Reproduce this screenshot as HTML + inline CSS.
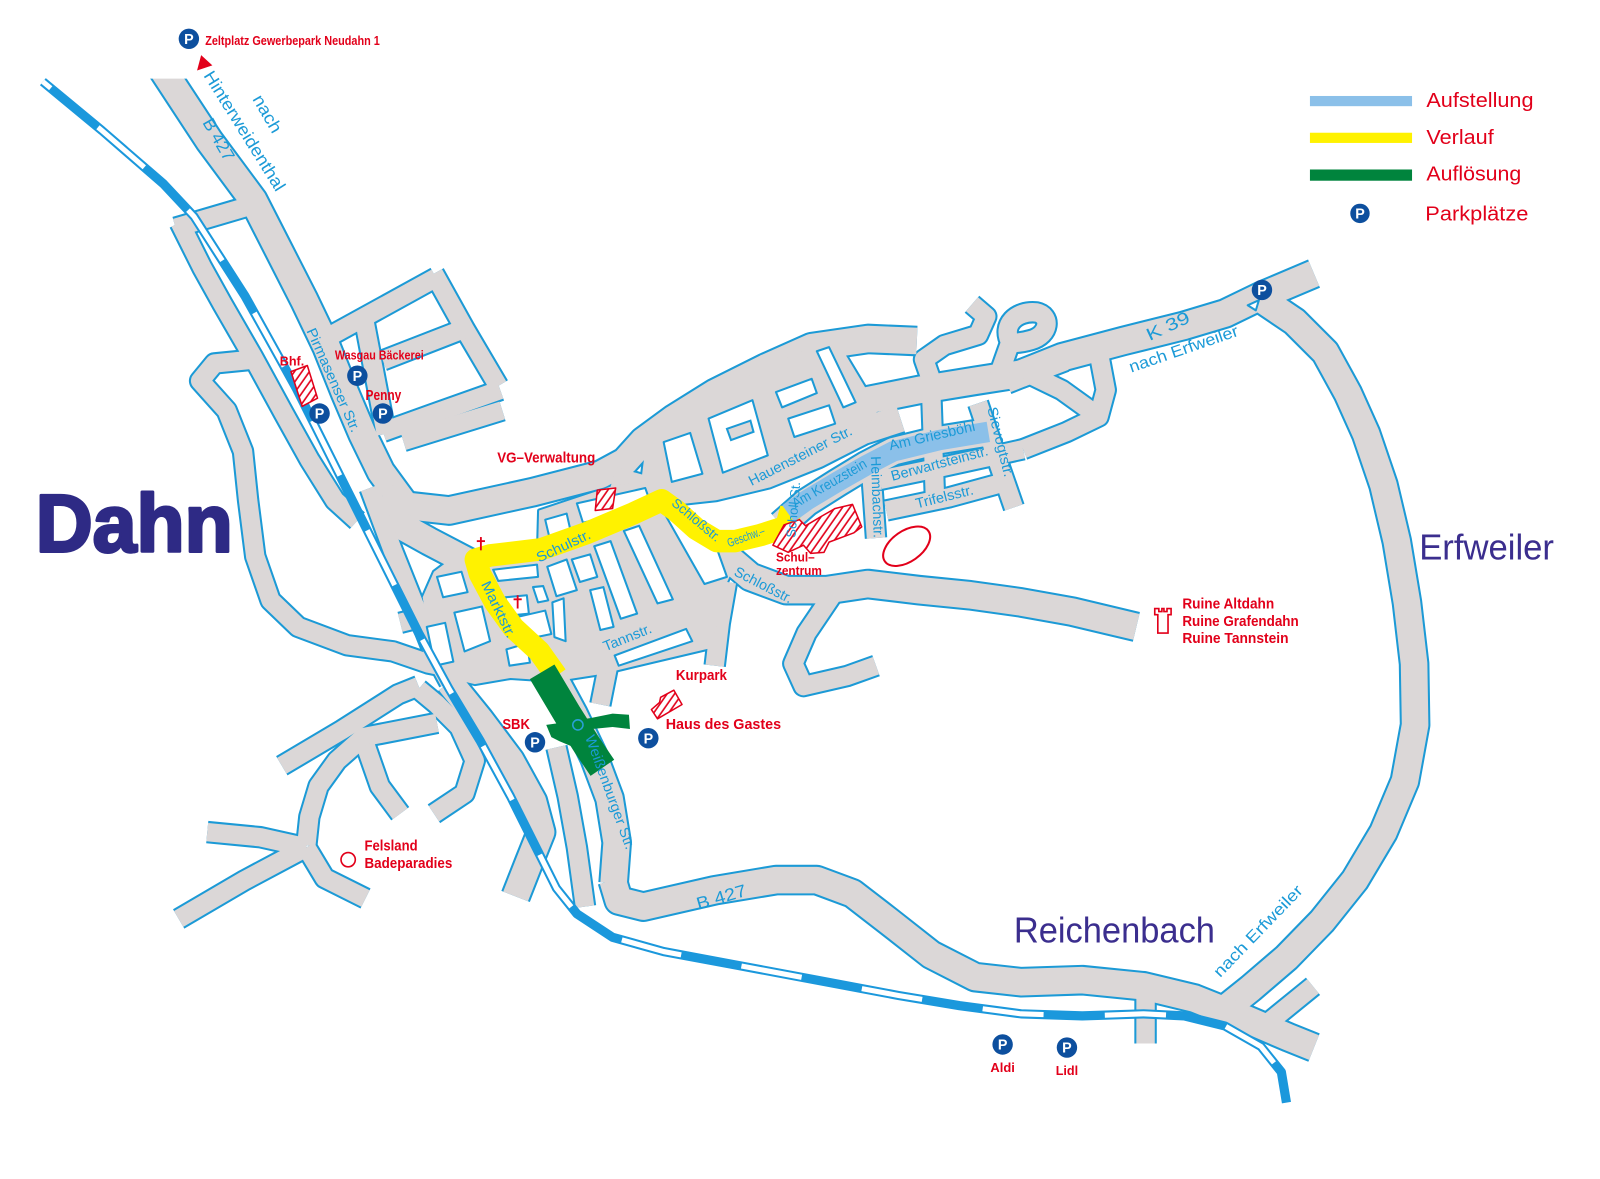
<!DOCTYPE html>
<html><head><meta charset="utf-8">
<style>
html,body{margin:0;padding:0;background:#fff;}
svg{display:block}
text{font-family:"Liberation Sans Narrow","Liberation Sans",sans-serif}
.b{fill:#1b9ad7;font-size:14px}
.r{fill:#e2001a;font-size:13px;font-weight:bold}
.lg{fill:#e2001a;font-size:20px}
.blk{fill:#fff;stroke:#1c9ad6;stroke-width:2;stroke-linejoin:round}
.pc{fill:#0d4f9e}
.pt{fill:#fff;font-size:14px;font-weight:bold;font-family:"Liberation Sans",sans-serif}
</style></head><body>
<svg width="1600" height="1179" viewBox="0 0 1600 1179" xmlns="http://www.w3.org/2000/svg">
<defs>
<pattern id="hat" patternUnits="userSpaceOnUse" width="6" height="6" patternTransform="rotate(35)">
<rect width="6" height="6" fill="#fff"/><line x1="1" y1="0" x2="1" y2="6" stroke="#e2001a" stroke-width="1.6"/>
</pattern>
<g id="maj">
<path d="M150,54 L163,74 L205,138 L248,196 L273,245 L298,294 L320,340 L338,385 L355,425 L373,462 L395,492"/>
<path d="M375,485 L395,495 L440,500 L522,482 L588,465 L612,452 L630,432 L660,410 L700,385 L750,360 L795,340 L850,332 L898,334"/>
<path d="M600,470 L645,483 L700,477 L750,465 L800,445 L845,422 L882,410"/>
<path d="M840,394 L900,382 L955,373 L1000,366 L1042,350"/>
<path d="M765,514 L790,492 L820,473 L848,456 L875,442 L920,431 L970,423"/>
<path d="M985,372 L1040,350 L1100,334 L1160,319 L1200,307 L1235,290 L1287,268"/>
<path d="M1228,288 L1268,315 L1298,345 L1320,385 L1338,425 L1355,475 L1368,530 L1378,590 L1385,650 L1386,710 L1376,765 L1355,815 L1327,862 L1295,902 L1260,938 L1225,968 L1195,992"/>
<path d="M600,862 L606,882 L630,888 L700,872 L760,862 L800,862 L835,875 L870,902 L912,935 L955,957 L1000,962 L1060,960 L1120,966 L1170,978 L1220,998 L1262,1016 L1287,1026"/>
<path d="M535,650 L562,700 L582,742 L597,782 L604,825 L601,865"/>
<path d="M700,535 L735,565 L770,578 L810,578 L850,572 L900,578 L950,583 L1000,590 L1050,599 L1113,614"/>
<path d="M440,668 L470,705 L500,745 L522,785 L530,815 L518,845 L505,878"/>
<path d="M375,505 L420,530 L462,552"/>
</g>
<g id="min">
<path d="M172,223 L240,203"/>
<path d="M176,218 L198,262 L218,298 L248,350 L278,405 L303,450 L328,490 L350,510"/>
<path d="M250,352 L210,356 L196,373 L222,402 L238,442 L243,490 L250,545 L265,588 L292,614 L340,632 L385,638 L420,650 L445,655"/>
<path d="M362,478 L385,540 L405,590 L425,640 L440,668"/>
<path d="M318,332 L427,272"/>
<path d="M425,268 L455,322 L488,378"/>
<path d="M375,353 L460,320"/>
<path d="M375,423 L425,405 L490,382"/>
<path d="M357,315 L378,425"/>
<path d="M395,432 L492,402"/>
<path d="M410,672 L390,680 L335,715 L276,750"/>
<path d="M428,708 L356,722 L330,745 L312,770 L303,800 L300,828"/>
<path d="M300,830 L255,820 L203,815"/>
<path d="M300,830 L240,862 L175,900"/>
<path d="M300,830 L318,860 L358,880"/>
<path d="M358,730 L372,770 L392,797"/>
<path d="M425,797 L455,777 L465,745 L450,712 L428,690 L410,675"/>
<path d="M545,732 L556,780 L565,830 L573,888"/>
<path d="M852,445 L855,485 L858,527"/>
<path d="M958,395 L975,445 L993,497"/>
<path d="M862,470 L920,458 L975,446 L1002,440"/>
<path d="M868,500 L930,487 L985,472"/>
<path d="M912,383 L916,495"/>
<path d="M912,372 L905,352 L925,338 L958,328 L966,310 L952,298"/>
<path d="M990,336 C980,318 996,304 1015,306 C1030,309 1028,328 1010,333 C1000,336 994,336 990,336 Z"/>
<path d="M990,334 L978,368"/>
<path d="M1005,365 L1040,382 L1072,405"/>
<path d="M1076,345 L1083,382 L1076,408 L1045,423 L1002,440"/>
<path d="M815,583 L790,620 L777,650 L787,672 L830,662 L858,652"/>
<path d="M712,570 L705,610 L700,652"/>
<path d="M595,655 L588,690"/>
<path d="M1122,965 L1122,1022"/>
<path d="M1238,1005 L1286,966"/>
<path d="M392,610 L440,598"/>
<path d="M812,338 L848,398"/>
</g>
<g id="poly">
<polygon points="445,545 470,540 527,537 528,500 600,476 640,470 652,488 700,520 722,548 710,575 703,610 695,635 640,648 590,660 545,667 500,664 465,670 440,664 426,640 418,610 414,585 425,560"/>
<polygon points="628,472 632,440 660,410 700,385 750,360 795,340 815,338 845,392 860,405 845,422 800,445 750,465 700,478 645,488"/>
</g>
</defs>
<rect width="1600" height="1179" fill="#fff"/>
<g transform="scale(1.021)">
<!-- roads -->
<g stroke-linejoin="round" stroke-linecap="butt">
<use href="#maj" stroke="#1c9ad6" stroke-width="30" fill="none"/>
<use href="#min" stroke="#1c9ad6" stroke-width="22" fill="none"/>
<use href="#poly" stroke="#1c9ad6" stroke-width="4" fill="#1c9ad6"/>
<use href="#maj" stroke="#dbd7d7" stroke-width="26" fill="none"/>
<use href="#min" stroke="#dbd7d7" stroke-width="18" fill="none"/>
<use href="#poly" stroke="none" fill="#dbd7d7"/>
</g>
<rect x="120" y="0" width="95" height="77" fill="#fff"/>
<!-- blocks -->
<g class="blk">
<polygon points="650,433 676,424 688,464 658,472"/>
<polygon points="694,410 737,392 752,446 708,463"/>
<polygon points="760,384 795,371 800,385 766,399"/>
<polygon points="772,410 812,397 818,415 778,428"/>
<polygon points="800,344 812,340 838,394 826,399"/>
<polygon points="534,509 555,503 560,525 539,530"/>
<polygon points="565,493 632,478 638,495 571,512"/>
<polygon points="652,505 662,502 702,537 712,565 690,572"/>
<polygon points="483,558 526,553 527,565 488,569"/>
<polygon points="536,555 555,548 565,578 545,584"/>
<polygon points="560,548 578,543 585,565 568,570"/>
<polygon points="582,535 598,530 624,601 608,606"/>
<polygon points="611,520 626,515 659,587 644,591"/>
<polygon points="495,585 516,583 518,601 498,603"/>
<polygon points="522,575 532,574 537,588 527,590"/>
<polygon points="508,604 534,598 540,621 511,627"/>
<polygon points="541,590 552,586 554,628 543,624"/>
<polygon points="578,578 591,575 601,614 588,617"/>
<polygon points="602,642 672,616 678,628 606,652"/>
<polygon points="445,600 472,594 480,628 455,638"/>
<polygon points="428,565 452,560 458,580 434,585"/>
<polygon points="496,636 516,630 519,649 499,652"/>
<polygon points="418,614 436,610 444,648 426,652"/>
<polygon points="1222,299 1233,294 1230,304"/>
</g>
<polygon points="712,420 735,412 738,423 716,431" fill="#dbd7d7" stroke="#1c9ad6" stroke-width="2"/>
<!-- route -->
<g fill="none" stroke-linejoin="round">
<path d="M545,662 L528,638 L503,615 L485,590 L470,562 L466,548 L480,544 L530,538 L575,522 L620,503 L648,490 L662,500 L682,518 L702,530 L720,530 L745,524 L770,516 L775,498" stroke="#fff200" stroke-width="22"/>
<path d="M772,503 L790,490 L820,472 L848,456 L875,442 L920,431 L968,423" stroke="#8bc0e9" stroke-width="20"/>
<path d="M531,658 L556,700 L575,730 L590,752" stroke="#00843d" stroke-width="28"/>
</g>
<polygon points="535,710 556,707 580,703 600,699 616,700 617,714 600,712 580,714 568,720 560,731 548,726 540,722" fill="#00843d"/>
<circle cx="566" cy="710" r="5" fill="none" stroke="#2aa0d8" stroke-width="1.5"/>
<!-- rail -->
<g fill="none" stroke-linejoin="round">
<path d="M42,80 L100,128 L160,180 L190,212 L240,290 L290,380 L335,470 L375,550 L410,620 L440,675 L470,725 L500,780 L525,830 L545,870 L565,895 L600,918 L650,932 L720,945 L800,960 L880,975 L940,985 L1000,993 L1060,995 L1120,993 L1160,995 L1200,1005 L1235,1025 L1255,1050 L1260,1080" stroke="#1b98dc" stroke-width="9"/>
<path d="M42,80 L100,128 L160,180 L190,212 L240,290 L290,380 L335,470 L375,550 L410,620 L440,675 L470,725 L500,780 L525,830 L545,870 L565,895 L600,918 L650,932 L720,945 L800,960 L880,975 L940,985 L1000,993 L1060,995 L1120,993 L1160,995 L1200,1005 L1235,1025 L1255,1050 L1260,1080" stroke="#fff" stroke-width="5" stroke-dasharray="60 60" stroke-dashoffset="-70"/>
</g>
<!-- red symbols -->
<g stroke="#e2001a" stroke-width="1.5" fill="url(#hat)" stroke-linejoin="round">
<polygon points="285,364 301,358 311,390 296,398"/>
<polygon points="585,480 603,478 600,498 583,500"/>
<polygon points="757,534 768,514 783,509 789,515 804,506 818,498 835,494 844,516 836,522 812,531 807,541 794,542 787,534 772,541"/>
<polygon points="638,695 646,688 647,683 660,676 668,690 644,704"/>
</g>
<ellipse cx="888" cy="535" rx="26" ry="15" transform="rotate(-35 888 535)" fill="none" stroke="#e2001a" stroke-width="2"/>
<path d="M1131,596 h4 v3 h3 v-3 h2 v3 h3 v-3 h4 v6 h-3 v18 h-10 v-18 h-3 z" fill="none" stroke="#e2001a" stroke-width="1.6"/>
<g stroke="#e2001a" stroke-width="1.8">
<line x1="471" y1="526" x2="471" y2="539"/><line x1="467" y1="530" x2="475" y2="530"/>
<line x1="507" y1="583" x2="507" y2="596"/><line x1="503" y1="587" x2="511" y2="587"/>
</g>
<circle cx="341" cy="842" r="7" fill="none" stroke="#e2001a" stroke-width="1.6"/>
<polygon points="197,54 193,69 208,64" fill="#e2001a"/>
<!-- legend -->
<rect x="1283" y="94" width="100" height="10" fill="#8bc0e9"/>
<rect x="1283" y="130" width="100" height="10" fill="#fff200"/>
<rect x="1283" y="166" width="100" height="11" fill="#00843d"/>
<text class="lg" x="1397" y="105" textLength="105" lengthAdjust="spacingAndGlyphs">Aufstellung</text>
<text class="lg" x="1397" y="141" textLength="66" lengthAdjust="spacingAndGlyphs">Verlauf</text>
<text class="lg" x="1397" y="177" textLength="93" lengthAdjust="spacingAndGlyphs">Auflösung</text>
<text class="lg" x="1396" y="216" textLength="101" lengthAdjust="spacingAndGlyphs">Parkplätze</text>
<!-- P circles -->
<g>
<circle class="pc" cx="185" cy="38" r="10"/><text class="pt" x="185" y="43" text-anchor="middle">P</text>
<circle class="pc" cx="313" cy="405" r="10"/><text class="pt" x="313" y="410" text-anchor="middle">P</text>
<circle class="pc" cx="350" cy="368" r="10"/><text class="pt" x="350" y="373" text-anchor="middle">P</text>
<circle class="pc" cx="375" cy="405" r="10"/><text class="pt" x="375" y="410" text-anchor="middle">P</text>
<circle class="pc" cx="1236" cy="284" r="10"/><text class="pt" x="1236" y="289" text-anchor="middle">P</text>
<circle class="pc" cx="524" cy="727" r="10"/><text class="pt" x="524" y="732" text-anchor="middle">P</text>
<circle class="pc" cx="635" cy="723" r="10"/><text class="pt" x="635" y="728" text-anchor="middle">P</text>
<circle class="pc" cx="982" cy="1023" r="10"/><text class="pt" x="982" y="1028" text-anchor="middle">P</text>
<circle class="pc" cx="1045" cy="1026" r="10"/><text class="pt" x="1045" y="1031" text-anchor="middle">P</text>
<circle class="pc" cx="1332" cy="209" r="9.5"/><text class="pt" x="1332" y="214" text-anchor="middle">P</text>
</g>
<!-- red labels -->
<text class="r" x="201" y="44" textLength="171" lengthAdjust="spacingAndGlyphs">Zeltplatz Gewerbepark Neudahn 1</text>
<text class="r" x="274" y="358" textLength="24" lengthAdjust="spacingAndGlyphs">Bhf.</text>
<text class="r" x="328" y="352" textLength="87" lengthAdjust="spacingAndGlyphs">Wasgau Bäckerei</text>
<text class="r" x="358" y="392" textLength="35" lengthAdjust="spacingAndGlyphs" style="font-size:14px">Penny</text>
<text class="r" x="487" y="453" textLength="96" lengthAdjust="spacingAndGlyphs" style="font-size:14px">VG–Verwaltung</text>
<text class="r" x="760" y="550" textLength="38" lengthAdjust="spacingAndGlyphs">Schul–</text>
<text class="r" x="760" y="563" textLength="45" lengthAdjust="spacingAndGlyphs">zentrum</text>
<text class="r" x="1158" y="596" textLength="90" lengthAdjust="spacingAndGlyphs" style="font-size:14px">Ruine Altdahn</text>
<text class="r" x="1158" y="613" textLength="114" lengthAdjust="spacingAndGlyphs" style="font-size:14px">Ruine Grafendahn</text>
<text class="r" x="1158" y="630" textLength="104" lengthAdjust="spacingAndGlyphs" style="font-size:14px">Ruine Tannstein</text>
<text class="r" x="662" y="666" textLength="50" lengthAdjust="spacingAndGlyphs" style="font-size:14px">Kurpark</text>
<text class="r" x="652" y="714" textLength="113" lengthAdjust="spacingAndGlyphs" style="font-size:14px">Haus des Gastes</text>
<text class="r" x="492" y="714" textLength="27" lengthAdjust="spacingAndGlyphs" style="font-size:14px">SBK</text>
<text class="r" x="357" y="833" textLength="52" lengthAdjust="spacingAndGlyphs" style="font-size:14px">Felsland</text>
<text class="r" x="357" y="850" textLength="86" lengthAdjust="spacingAndGlyphs" style="font-size:14px">Badeparadies</text>
<text class="r" x="970" y="1050" textLength="24" lengthAdjust="spacingAndGlyphs">Aldi</text>
<text class="r" x="1034" y="1053" textLength="22" lengthAdjust="spacingAndGlyphs">Lidl</text>
<!-- blue labels -->
<g class="b">
<text transform="translate(247,97) rotate(60)" textLength="40" lengthAdjust="spacingAndGlyphs" style="font-size:17px">nach</text>
<text transform="translate(199,74) rotate(58)" textLength="135" lengthAdjust="spacingAndGlyphs" style="font-size:17px">Hinterweidenthal</text>
<text transform="translate(198,120) rotate(60)" textLength="45" lengthAdjust="spacingAndGlyphs" style="font-size:17px">B 427</text>
<text transform="translate(300,324) rotate(66)" textLength="110" lengthAdjust="spacingAndGlyphs">Pirmasenser Str.</text>
<text transform="translate(736,476) rotate(-27)" textLength="112" lengthAdjust="spacingAndGlyphs">Hauensteiner Str.</text>
<text transform="translate(779,498) rotate(-30)" textLength="82" lengthAdjust="spacingAndGlyphs">Am Kreuzstein</text>
<text transform="translate(872,441) rotate(-13)" textLength="86" lengthAdjust="spacingAndGlyphs">Am Griesböhl</text>
<text transform="translate(853,447) rotate(88)" textLength="80" lengthAdjust="spacingAndGlyphs">Heimbachstr.</text>
<text transform="translate(874,471) rotate(-15)" textLength="98" lengthAdjust="spacingAndGlyphs">Berwartsteinstr.</text>
<text transform="translate(898,498) rotate(-14)" textLength="58" lengthAdjust="spacingAndGlyphs">Trifelsstr.</text>
<text transform="translate(967,400) rotate(76)" textLength="70" lengthAdjust="spacingAndGlyphs">Sievogtstr.</text>
<text transform="translate(714,536) rotate(-20)" textLength="38" lengthAdjust="spacingAndGlyphs" style="font-size:12px">Geschw.–</text>
<text transform="translate(779,527) rotate(-85)" textLength="55" lengthAdjust="spacingAndGlyphs" style="font-size:13px">Scholl St.</text>
<text transform="translate(657,494) rotate(40)" textLength="58" lengthAdjust="spacingAndGlyphs" style="font-size:13px">Schloßstr.</text>
<text transform="translate(528,551) rotate(-25)" textLength="57" lengthAdjust="spacingAndGlyphs">Schulstr.</text>
<text transform="translate(471,572) rotate(64)" textLength="60" lengthAdjust="spacingAndGlyphs">Marktstr.</text>
<text transform="translate(593,638) rotate(-22)" textLength="50" lengthAdjust="spacingAndGlyphs">Tannstr.</text>
<text transform="translate(718,563) rotate(27)" textLength="62" lengthAdjust="spacingAndGlyphs">Schloßstr.</text>
<text transform="translate(573,722) rotate(70)" textLength="118" lengthAdjust="spacingAndGlyphs">Weißenburger Str.</text>
<text transform="translate(684,891) rotate(-16)" textLength="50" lengthAdjust="spacingAndGlyphs" style="font-size:17px">B 427</text>
<text transform="translate(1126,334) rotate(-25)" textLength="45" lengthAdjust="spacingAndGlyphs" style="font-size:17px">K 39</text>
<text transform="translate(1108,365) rotate(-19)" textLength="112" lengthAdjust="spacingAndGlyphs" style="font-size:16px">nach Erfweiler</text>
<text transform="translate(1195,958) rotate(-46)" textLength="118" lengthAdjust="spacingAndGlyphs" style="font-size:16px">nach Erfweiler</text>
</g>
<!-- place names -->
<text x="35" y="540" textLength="193" lengthAdjust="spacingAndGlyphs" style="font-family:'Liberation Sans',sans-serif;font-size:80px;font-weight:bold;fill:#2e2a85;stroke:#2e2a85;stroke-width:3;stroke-linejoin:round">Dahn</text>
<text x="1390" y="548" textLength="132" lengthAdjust="spacingAndGlyphs" style="font-family:'Liberation Sans',sans-serif;font-size:35px;fill:#3b2e8e">Erfweiler</text>
<text x="993" y="923" textLength="197" lengthAdjust="spacingAndGlyphs" style="font-family:'Liberation Sans',sans-serif;font-size:35px;fill:#3b2e8e">Reichenbach</text>
</g>
</svg>
</body></html>
